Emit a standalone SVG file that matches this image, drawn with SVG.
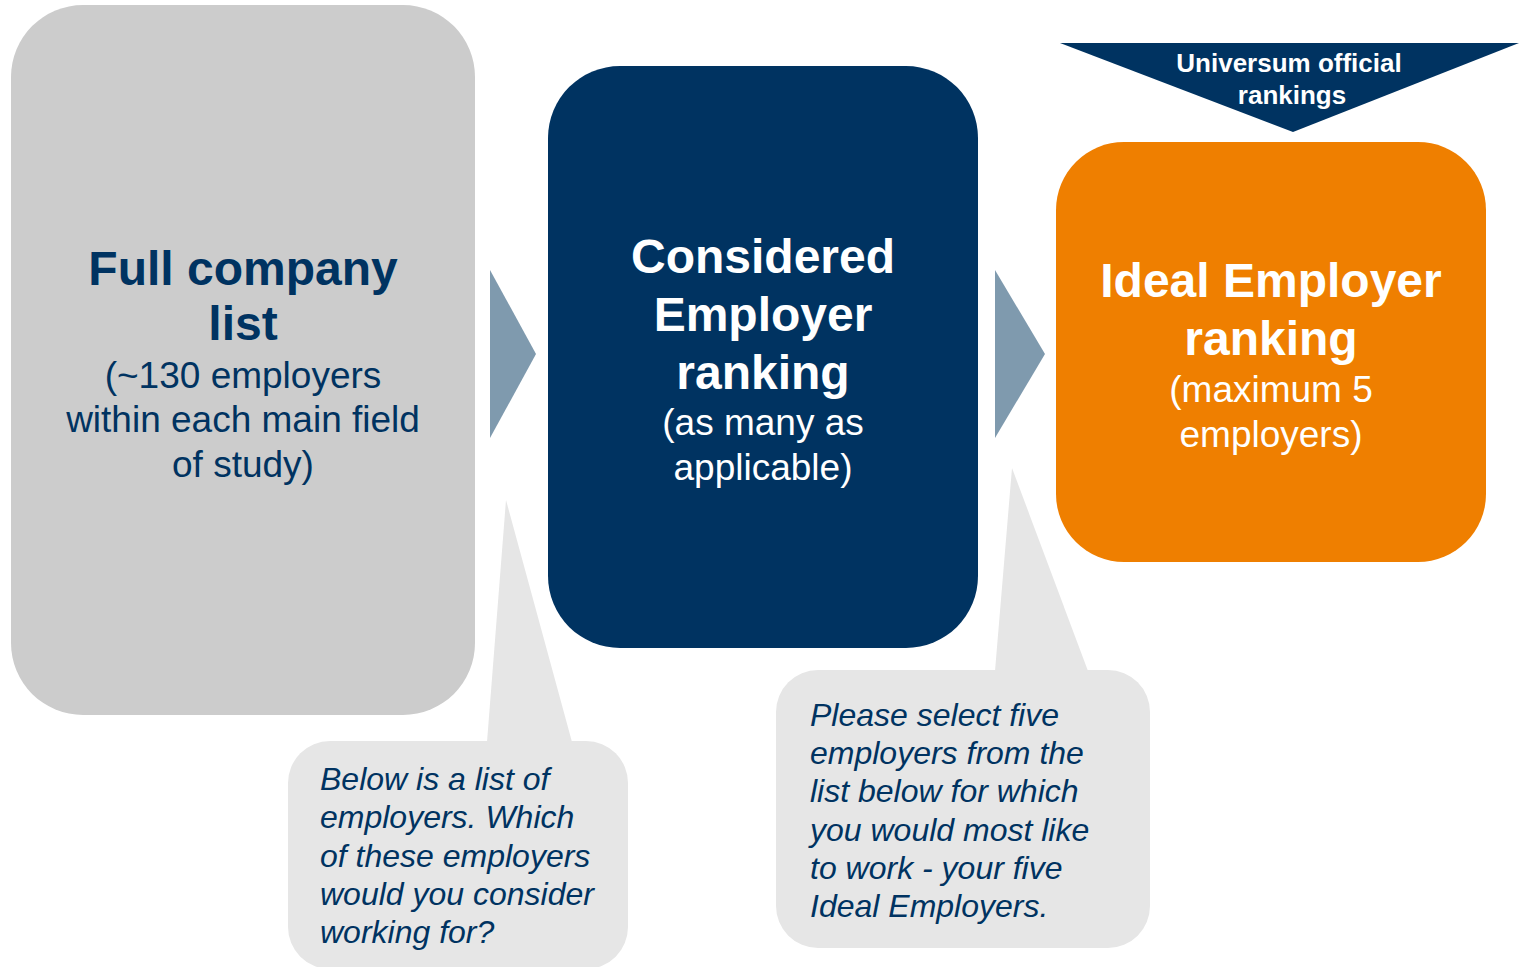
<svg xmlns="http://www.w3.org/2000/svg" width="1519" height="967" viewBox="0 0 1519 967">
<style>
text{font-family:"Liberation Sans",Arial,sans-serif;text-anchor:middle}
.title{font-size:48px;font-weight:bold}
.sub{font-size:37px}
.navy{fill:#003361}
.white{fill:#ffffff}
.q{font-size:32px;font-style:italic;fill:#003361;text-anchor:start}
.callout{fill:#E6E6E6}
.chev{fill:#7F9AAE}
</style>
<rect width="1519" height="967" fill="#ffffff"/>
<g id="connectors">
<polygon class="chev" points="490,270 536,354 490,438"/>
<polygon class="chev" points="995,270 1045,354 995,438"/>
</g>
<g id="full-list">
<rect x="11" y="5" width="464" height="710" rx="72" ry="72" fill="#CCCCCC"/>
<text class="title navy" x="243" y="285">Full company</text>
<text class="title navy" x="243" y="340">list</text>
<text class="sub navy" x="243" y="388">(~130 employers</text>
<text class="sub navy" x="243" y="432">within each main field</text>
<text class="sub navy" x="243" y="477">of study)</text>
</g>
<g id="considered">
<rect x="548" y="66" width="430" height="582" rx="72" ry="72" fill="#003361"/>
<text class="title white" x="763" y="273">Considered</text>
<text class="title white" x="763" y="331">Employer</text>
<text class="title white" x="763" y="389">ranking</text>
<text class="sub white" x="763" y="435">(as many as</text>
<text class="sub white" x="763" y="480">applicable)</text>
</g>
<g id="ideal">
<rect x="1056" y="142" width="430" height="420" rx="68" ry="68" fill="#EF7F00"/>
<text class="title white" x="1271" y="297">Ideal Employer</text>
<text class="title white" x="1271" y="355">ranking</text>
<text class="sub white" x="1271" y="402">(maximum 5</text>
<text class="sub white" x="1271" y="447">employers)</text>
</g>
<g id="universum">
<polygon points="1060,43 1519,43 1293,132" fill="#003361"/>
<text x="1289" y="72" style="font-size:26px;font-weight:bold" class="white">Universum official</text>
<text x="1292" y="104" style="font-size:26px;font-weight:bold" class="white">rankings</text>
</g>
<g id="callout-consider">
<polygon class="callout" points="487,742 506,500 572,742"/>
<rect class="callout" x="288" y="741" width="340" height="228" rx="42" ry="42"/>
<text class="q" x="320" y="790">Below is a list of</text>
<text class="q" x="320" y="828">employers. Which</text>
<text class="q" x="320" y="867">of these employers</text>
<text class="q" x="320" y="905">would you consider</text>
<text class="q" x="320" y="943">working for?</text>
</g>
<g id="callout-ideal">
<polygon class="callout" points="995,671 1012,468 1088,671"/>
<rect class="callout" x="776" y="670" width="374" height="278" rx="42" ry="42"/>
<text class="q" x="810" y="726">Please select five</text>
<text class="q" x="810" y="764">employers from the</text>
<text class="q" x="810" y="802">list below for which</text>
<text class="q" x="810" y="841">you would most like</text>
<text class="q" x="810" y="879">to work - your five</text>
<text class="q" x="810" y="917">Ideal Employers.</text>
</g>
</svg>
